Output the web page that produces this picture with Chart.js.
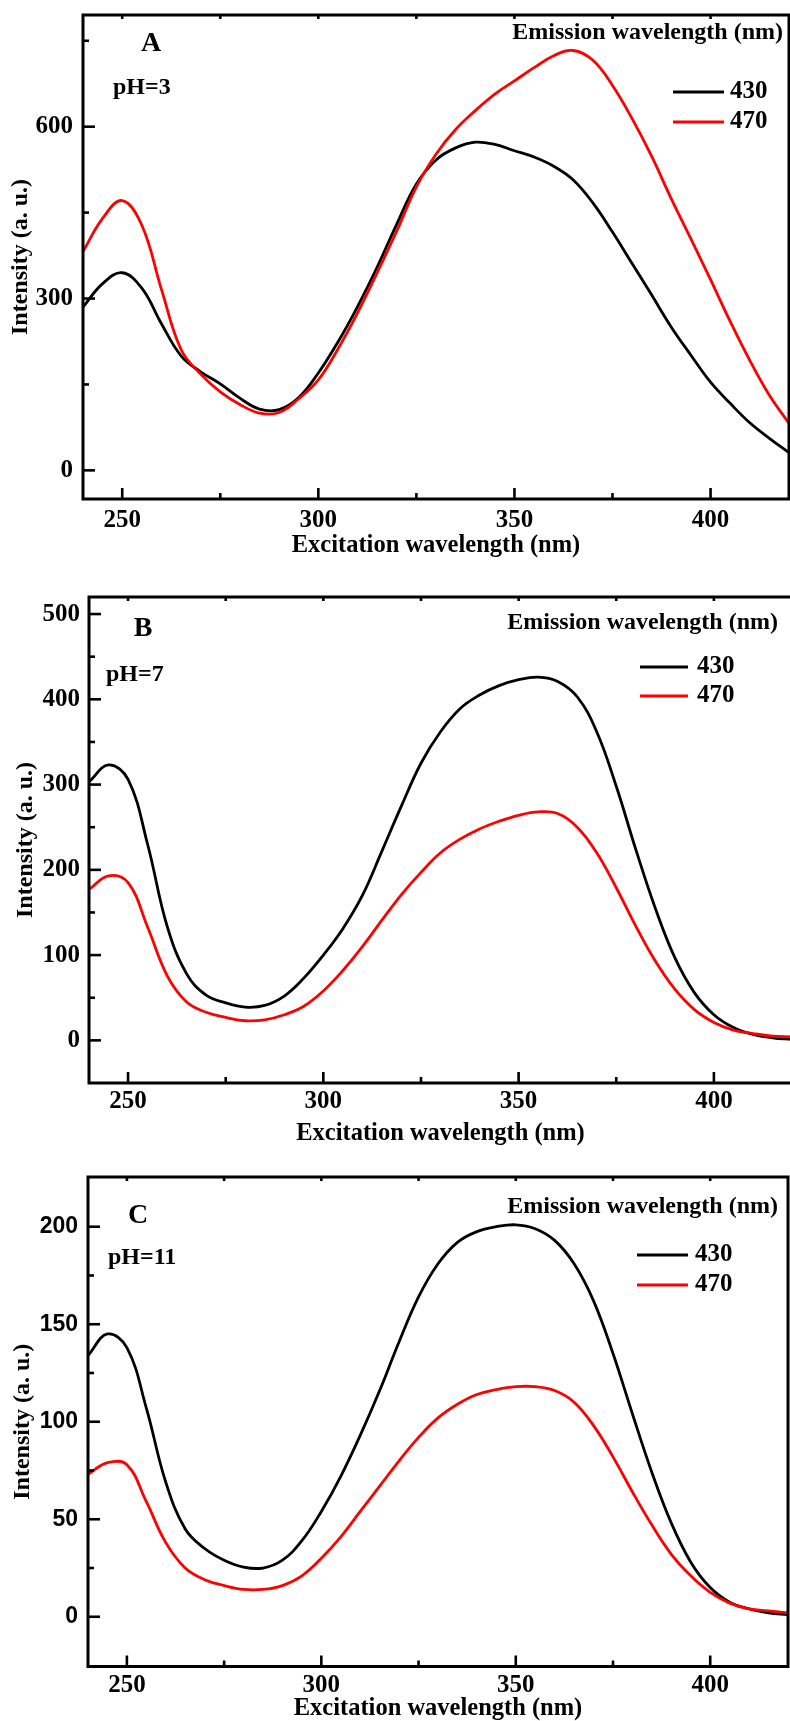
<!DOCTYPE html>
<html>
<head>
<meta charset="utf-8">
<script src="https://cdn.jsdelivr.net/npm/chart.js@4.4.1/dist/chart.umd.min.js"></script>
<style>
  html, body { margin: 0; padding: 0; background: #ffffff; }
  body { width: 790px; height: 1721px; position: relative; overflow: hidden; }
  canvas { position: absolute; left: 0; }
</style>
</head>
<body>
<canvas id="panelA" width="790" height="570" style="top:0px"></canvas>
<canvas id="panelB" width="792" height="580" style="top:570px"></canvas>
<canvas id="panelC" width="790" height="571" style="top:1150px"></canvas>
<script>
// Excitation wavelengths (nm) at which the spectra are sampled
const excitation = [240, 245, 250, 255, 260, 265, 270, 275, 280, 285, 290, 295, 300, 305, 310, 315, 320, 325, 330,
                    335, 340, 345, 350, 355, 360, 365, 370, 375, 380, 385, 390, 395, 400, 405, 410, 415, 420];

// Emission wavelengths shown in the legends
const emissionLabels = ['430', '470'];

// pH = 3
const pH3_em430 = [285, 326, 345, 318, 256, 200, 172, 151, 126, 107, 106, 127, 170, 224, 286, 355, 430, 500, 542,
                   563, 573, 569, 558, 547, 531, 507, 467, 416, 361, 306, 250, 201, 154, 117, 83, 56, 31];
const pH3_em470 = [382, 440, 471, 428, 316, 211, 168, 137, 115, 100, 101, 125, 158, 212, 275, 345, 418, 495, 552,
                   595, 628, 657, 680, 703, 724, 733, 716, 672, 614, 548, 474, 404, 333, 260, 192, 131, 82];

// pH = 7
const pH7_em430 = [303, 323, 306, 230, 134, 78, 53, 44, 39, 41, 52, 73, 100, 131, 170, 222, 275, 325, 362,
                   389, 405, 416, 423, 426, 421, 403, 362, 298, 224, 155, 97, 56, 30, 15, 7, 3, 1];
const pH7_em470 = [177, 193, 185, 133, 76, 45, 33, 27, 23, 24, 30, 40, 58, 82, 110, 141, 171, 197, 220,
                   236, 248, 257, 264, 268, 266, 250, 220, 179, 134, 93, 60, 36, 21, 12, 8, 5, 4];

// pH = 11
const pH11_em430 = [134, 145, 138, 107, 69, 45, 35, 29, 25.5, 25, 29, 39, 54, 72, 93, 116, 141, 164, 181,
                    192, 197.5, 200, 201, 199, 193, 181, 162, 135, 104, 74, 48, 28, 15, 7.5, 4, 2, 1];
const pH11_em470 = [73, 79, 78, 59, 38, 25, 19, 16, 14, 14, 16, 21, 30, 41, 54, 67, 80, 92, 102,
                    109, 114, 116.5, 118, 118, 116, 110, 98, 82, 64, 47, 32, 21, 12.5, 7, 4, 3, 2];

// Axis ticks
const xMajorTicks = [250, 300, 350, 400];
const xMinorTicks = [275, 325, 375];
const yMajorA = [0, 300, 600];
const yMinorA = [150, 450, 750];
const yMajorB = [0, 100, 200, 300, 400, 500];
const yMinorB = [50, 150, 250, 350, 450];
const yMajorC = [0, 50, 100, 150, 200];
const yMinorC = [25, 75, 125, 175];

const xTitle = 'Excitation wavelength (nm)';
const yTitle = 'Intensity (a. u.)';
const legendTitle = 'Emission wavelength (nm)';

const SERIF = '"Liberation Serif", "Times New Roman", Times, serif';
const SANS = '"Liberation Sans", Arial, Helvetica, sans-serif';
const LINE_COLORS = ['#000000', '#ff0000'];

const panels = [
  {
    canvas: 'panelA', letter: 'A', ph: 'pH=3', series: [pH3_em430, pH3_em470],
    yMin: -50, yMax: 795, yMajor: yMajorA, yMinor: yMinorA,
    area: { left: 83, right: 789, top: 15, bottom: 499 },
    yTickFont: { family: SERIF, size: 25 }, yTickPad: 10, xTickPad: 9, xTitlePad: 12.5, yTitlePad: 9,
    pos: { letter: [151, 44], ph: [113, 88], legendTitle: [783, 33], legend: { x1: 673, x2: 724, rows: [92, 122], tx: 730 } }
  },
  {
    canvas: 'panelB', letter: 'B', ph: 'pH=7', series: [pH7_em430, pH7_em470],
    yMin: -50, yMax: 520, yMajor: yMajorB, yMinor: yMinorB,
    area: { left: 89, right: 792, top: 27, bottom: 513 },
    yTickFont: { family: SERIF, size: 25 }, yTickPad: 9, xTickPad: 6.5, xTitlePad: 4.5, yTitlePad: 14,
    pos: { letter: [143, 59], ph: [106, 105], legendTitle: [778, 53], legend: { x1: 640, x2: 688, rows: [97, 126], tx: 697 } }
  },
  {
    canvas: 'panelC', letter: 'C', ph: 'pH=11', series: [pH11_em430, pH11_em470],
    yMin: -25.5, yMax: 225.5, yMajor: yMajorC, yMinor: yMinorC,
    area: { left: 88, right: 788, top: 27, bottom: 516.5 },
    yTickFont: { family: SANS, size: 23 }, yTickPad: 10, xTickPad: 7, xTitlePad: 0, yTitlePad: 11,
    pos: { letter: [138, 66], ph: [108, 108], legendTitle: [778, 57], legend: { x1: 637, x2: 688, rows: [105, 135], tx: 695 } }
  }
];

// Frame, inward ticks, panel labels and legend
function panelDecor(p) {
  return {
    id: 'panelDecor',
    afterDraw(chart) {
      const { ctx, chartArea: a } = chart;
      const xs = chart.scales.x, ys = chart.scales.y;
      ctx.save();
      ctx.strokeStyle = '#000000';
      ctx.lineCap = 'butt';

      ctx.lineWidth = 2.6;
      const tick = (x1, y1, x2, y2) => { ctx.beginPath(); ctx.moveTo(x1, y1); ctx.lineTo(x2, y2); ctx.stroke(); };
      xMajorTicks.forEach(v => { const px = xs.getPixelForValue(v); tick(px, a.bottom, px, a.bottom - 11); tick(px, a.top, px, a.top + 4); });
      xMinorTicks.forEach(v => { const px = xs.getPixelForValue(v); tick(px, a.bottom, px, a.bottom - 6); tick(px, a.top, px, a.top + 4); });
      p.yMajor.forEach(v => { const py = ys.getPixelForValue(v); tick(a.left, py, a.left + 12, py); });
      p.yMinor.forEach(v => { const py = ys.getPixelForValue(v); tick(a.left, py, a.left + 6, py); });

      ctx.lineWidth = 3;
      ctx.strokeRect(a.left, a.top, a.right - a.left, a.bottom - a.top);

      ctx.fillStyle = '#000000';
      ctx.textBaseline = 'middle';
      ctx.font = 'bold 28px ' + SERIF;
      ctx.textAlign = 'center';
      ctx.fillText(p.letter, p.pos.letter[0], p.pos.letter[1]);

      ctx.font = 'bold 24px ' + SERIF;
      ctx.textAlign = 'left';
      ctx.fillText(p.ph, p.pos.ph[0], p.pos.ph[1]);

      ctx.textAlign = 'right';
      ctx.fillText(legendTitle, p.pos.legendTitle[0], p.pos.legendTitle[1]);

      const lg = p.pos.legend;
      ctx.font = 'bold 25px ' + SERIF;
      ctx.textAlign = 'left';
      chart.data.datasets.forEach((ds, i) => {
        const y = lg.rows[i];
        ctx.strokeStyle = ds.borderColor;
        ctx.lineWidth = 3;
        tick(lg.x1, y, lg.x2, y);
        ctx.fillText(ds.label, lg.tx, y);
      });
      ctx.restore();
    }
  };
}

panels.forEach(p => {
  const cv = document.getElementById(p.canvas);
  const W = cv.width, H = cv.height;
  const zeroPad = s => { s.paddingLeft = 0; s.paddingRight = 0; s.paddingTop = 0; s.paddingBottom = 0; };
  new Chart(cv, {
    type: 'line',
    data: {
      datasets: p.series.map((vals, i) => ({
        label: emissionLabels[i],
        data: excitation.map((x, k) => ({ x: x, y: vals[k] })),
        borderColor: LINE_COLORS[i],
        backgroundColor: LINE_COLORS[i],
        borderWidth: 2.8,
        pointRadius: 0,
        fill: false,
        tension: 0.4,
        order: 2 - i
      }))
    },
    options: {
      responsive: false,
      animation: false,
      devicePixelRatio: 1,
      layout: { padding: { left: 0, top: p.area.top, right: W - p.area.right, bottom: 0 } },
      plugins: { legend: { display: false }, tooltip: { enabled: false } },
      scales: {
        x: {
          type: 'linear', min: 240, max: 420,
          afterBuildTicks: s => { s.ticks = xMajorTicks.map(v => ({ value: v })); },
          afterFit: s => { s.height = H - p.area.bottom; zeroPad(s); },
          grid: { display: false, drawTicks: false },
          border: { display: false },
          ticks: { color: '#000000', padding: p.xTickPad, maxRotation: 0, autoSkip: false,
                   font: { family: SERIF, size: 25, weight: 'bold', lineHeight: 1 }, callback: v => String(v) },
          title: { display: true, text: xTitle, color: '#000000',
                   font: { family: SERIF, size: 24.5, weight: 'bold', lineHeight: 1 },
                   padding: { top: 0, bottom: p.xTitlePad } }
        },
        y: {
          type: 'linear', min: p.yMin, max: p.yMax,
          afterBuildTicks: s => { s.ticks = p.yMajor.map(v => ({ value: v })); },
          afterFit: s => { s.width = p.area.left; zeroPad(s); },
          grid: { display: false, drawTicks: false },
          border: { display: false },
          ticks: { color: '#000000', padding: p.yTickPad, autoSkip: false,
                   font: { family: p.yTickFont.family, size: p.yTickFont.size, weight: 'bold', lineHeight: 1 },
                   callback: v => String(v) },
          title: { display: true, text: yTitle, color: '#000000',
                   font: { family: SERIF, size: 24, weight: 'bold', lineHeight: 1 },
                   padding: { top: p.yTitlePad, bottom: 0 } }
        }
      }
    },
    plugins: [panelDecor(p)]
  });
});
</script>
</body>
</html>
